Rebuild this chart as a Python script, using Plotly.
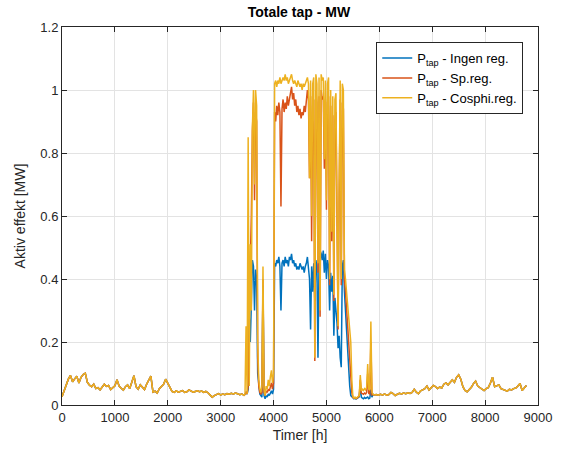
import numpy as np
import plotly.graph_objects as go

# Shared low-load periods (all three control modes give the same tap), 40 h sampling
start_vinter = 0
last_vinter = [
    0.026, 0.045, 0.066, 0.082, 0.094, 0.074, 0.083, 0.091, 0.070, 0.088,
    0.097, 0.101, 0.072, 0.063, 0.058, 0.066, 0.052, 0.055, 0.048, 0.057,
    0.066, 0.059, 0.062, 0.049, 0.055, 0.061, 0.080, 0.060, 0.053, 0.047,
    0.058, 0.064, 0.052, 0.070, 0.093, 0.058, 0.050, 0.064, 0.055, 0.049,
    0.066, 0.078, 0.092, 0.041, 0.044, 0.038, 0.052, 0.059, 0.066, 0.082,
    0.070, 0.055, 0.043, 0.040, 0.045, 0.041, 0.043, 0.046, 0.040, 0.042,
    0.048, 0.044, 0.041, 0.043, 0.045, 0.042, 0.044, 0.040, 0.043, 0.039,
    0.033, 0.025, 0.030, 0.034, 0.036, 0.032, 0.035, 0.033, 0.036, 0.034,
    0.037, 0.035, 0.038, 0.036, 0.033, 0.035, 0.031,
]

start_host = 5940
last_host = [
    0.033, 0.031, 0.034, 0.032, 0.035, 0.031, 0.033, 0.040, 0.036, 0.030,
    0.034, 0.037, 0.035, 0.038, 0.036, 0.039, 0.037, 0.040, 0.050, 0.041,
    0.036, 0.045, 0.048, 0.052, 0.060, 0.048, 0.055, 0.062, 0.058, 0.052,
    0.057, 0.054, 0.066, 0.070, 0.064, 0.074, 0.080, 0.072, 0.088, 0.096,
    0.082, 0.058, 0.046, 0.042, 0.050, 0.056, 0.068, 0.076, 0.060, 0.055,
    0.050, 0.046, 0.052, 0.055, 0.070, 0.088, 0.058, 0.060, 0.064, 0.052,
    0.049, 0.046, 0.044, 0.050, 0.048, 0.052, 0.054, 0.060, 0.068, 0.046,
    0.055, 0.062,
]
steg_lav = 40

# Summer production period, 20 h sampling, one list per control mode
start_sommer = 3460
steg_sommer = 20

p_ingen = [
    0.034, 0.040, 0.035, 0.050, 0.280, 0.200, 0.320, 0.460, 0.440, 0.300,
    0.430, 0.400, 0.100, 0.050, 0.035, 0.030, 0.025, 0.380, 0.030, 0.020,
    0.030, 0.025, 0.035, 0.030, 0.040, 0.045, 0.035, 0.050, 0.450, 0.440,
    0.460, 0.450, 0.470, 0.440, 0.300, 0.450, 0.460, 0.440, 0.470, 0.450,
    0.460, 0.440, 0.470, 0.460, 0.480, 0.450, 0.460, 0.440, 0.450, 0.430,
    0.440, 0.430, 0.450, 0.440, 0.430, 0.440, 0.420, 0.440, 0.450, 0.470,
    0.440, 0.400, 0.240, 0.440, 0.360, 0.450, 0.330, 0.460, 0.440, 0.150,
    0.450, 0.490, 0.480, 0.460, 0.490, 0.420, 0.480, 0.400, 0.460, 0.440,
    0.300, 0.420, 0.360, 0.410, 0.220, 0.340, 0.300, 0.260, 0.180, 0.220,
    0.150, 0.120, 0.440, 0.460, 0.360, 0.300, 0.220, 0.140, 0.090, 0.060,
    0.030, 0.026, 0.022, 0.020, 0.022, 0.019, 0.021, 0.024, 0.026, 0.060,
    0.025, 0.022, 0.020, 0.024, 0.021, 0.023, 0.025, 0.020, 0.022, 0.050,
    0.025, 0.034, 0.032,
]

p_sp = [
    0.034, 0.040, 0.035, 0.060, 0.300, 0.450, 0.600, 0.870, 0.960, 0.650,
    0.930, 0.900, 0.150, 0.060, 0.040, 0.035, 0.040, 0.400, 0.040, 0.030,
    0.045, 0.040, 0.050, 0.045, 0.060, 0.070, 0.050, 0.070, 0.930, 0.900,
    0.950, 0.920, 0.960, 0.930, 0.630, 0.940, 0.970, 0.930, 0.960, 0.940,
    0.980, 0.950, 0.970, 0.990, 1.010, 0.970, 0.990, 0.950, 0.970, 0.930,
    0.950, 0.920, 0.940, 0.910, 0.930, 0.920, 0.950, 0.930, 0.960, 1.000,
    0.970, 0.720, 0.980, 0.520, 0.950, 0.970, 0.140, 1.000, 0.960, 0.420,
    0.980, 0.280, 1.000, 0.970, 0.980, 0.750, 0.970, 0.620, 0.960, 0.980,
    0.380, 0.950, 0.520, 0.920, 0.330, 0.900, 0.930, 0.570, 0.240, 0.660,
    0.970, 0.380, 0.960, 0.940, 0.400, 0.360, 0.310, 0.260, 0.200, 0.140,
    0.080, 0.040, 0.024, 0.021, 0.023, 0.020, 0.022, 0.025, 0.028, 0.080,
    0.038, 0.036, 0.034, 0.038, 0.035, 0.040, 0.100, 0.037, 0.035, 0.200,
    0.032, 0.034, 0.032,
]

p_cosphi = [
    0.034, 0.250, 0.035, 0.850, 0.060, 0.510, 0.300, 0.880, 1.000, 0.700,
    1.000, 0.950, 0.200, 0.080, 0.050, 0.040, 0.060, 0.440, 0.050, 0.030,
    0.060, 0.050, 0.080, 0.060, 0.090, 0.110, 0.070, 0.100, 1.020, 1.030,
    1.010, 1.030, 1.020, 1.040, 1.020, 1.030, 1.040, 1.030, 1.050, 1.030,
    1.040, 1.020, 1.030, 1.040, 1.050, 1.030, 1.020, 1.030, 1.020, 1.010,
    1.030, 1.020, 1.010, 1.020, 1.000, 1.020, 1.010, 1.020, 1.030, 1.040,
    1.020, 0.720, 1.030, 0.600, 1.020, 1.040, 0.150, 1.050, 1.020, 0.450,
    1.040, 0.300, 1.050, 1.030, 1.040, 0.780, 1.030, 0.650, 1.020, 1.040,
    0.400, 1.000, 0.550, 0.980, 0.350, 0.970, 0.990, 0.600, 0.250, 0.700,
    1.030, 0.400, 1.020, 1.000, 0.430, 0.400, 0.360, 0.330, 0.290, 0.250,
    0.200, 0.080, 0.026, 0.022, 0.025, 0.021, 0.024, 0.027, 0.030, 0.095,
    0.045, 0.050, 0.046, 0.052, 0.048, 0.055, 0.130, 0.050, 0.047, 0.265,
    0.040, 0.034, 0.032,
]

serie_navn = [
    "P<sub>tap</sub> - Ingen reg.",
    "P<sub>tap</sub> - Sp.reg.",
    "P<sub>tap</sub> - Cosphi.reg.",
]
farger = ["#0072BD", "#D95319", "#EDB120"]

x_ticks = [0, 1000, 2000, 3000, 4000, 5000, 6000, 7000, 8000, 9000]
y_ticks = [0, 0.2, 0.4, 0.6, 0.8, 1.0, 1.2]


def timeserie(sommer):
    t1 = start_vinter + steg_lav * np.arange(len(last_vinter))
    t2 = start_sommer + steg_sommer * np.arange(len(sommer))
    t3 = start_host + steg_lav * np.arange(len(last_host))
    t = np.concatenate([t1, t2, t3])
    p = np.concatenate([last_vinter, sommer, last_host])
    return t, p


fig = go.Figure()
for navn, farge, sommer in zip(serie_navn, farger, [p_ingen, p_sp, p_cosphi]):
    t, p = timeserie(sommer)
    fig.add_trace(go.Scatter(
        x=t, y=p, mode="lines", name=navn,
        line=dict(color=farge, width=1.5),
    ))

akse = dict(
    showline=True, linecolor="#262626", linewidth=1, mirror="ticks",
    ticks="inside", ticklen=5, tickcolor="#262626",
    showgrid=True, gridcolor="#E3E3E3", gridwidth=1,
    zeroline=False,
    tickfont=dict(size=13, color="#262626"),
)

fig.update_layout(
    width=564, height=452,
    paper_bgcolor="white", plot_bgcolor="white",
    font=dict(family="Liberation Sans, Arial, sans-serif", color="#262626"),
    margin=dict(l=62, r=23, t=27, b=47),
    title=dict(
        text="<b>Totale tap - MW</b>", x=0.53, xanchor="center",
        y=0.973, yanchor="middle", font=dict(size=14, color="#000000"),
    ),
    xaxis=dict(
        akse, range=[0, 9000], tickvals=x_ticks, tickformat="d",
        title=dict(text="Timer [h]", font=dict(size=14), standoff=6),
    ),
    yaxis=dict(
        akse, range=[0, 1.2], tickvals=y_ticks,
        title=dict(text="Aktiv effekt [MW]", font=dict(size=14), standoff=11),
    ),
    legend=dict(
        x=0.969, xanchor="right", y=0.96, yanchor="top",
        bgcolor="white", bordercolor="#262626", borderwidth=1,
        font=dict(size=13, color="#000000"),
        tracegroupgap=0, itemwidth=30,
    ),
    showlegend=True,
)

fig.write_html("out.html")
